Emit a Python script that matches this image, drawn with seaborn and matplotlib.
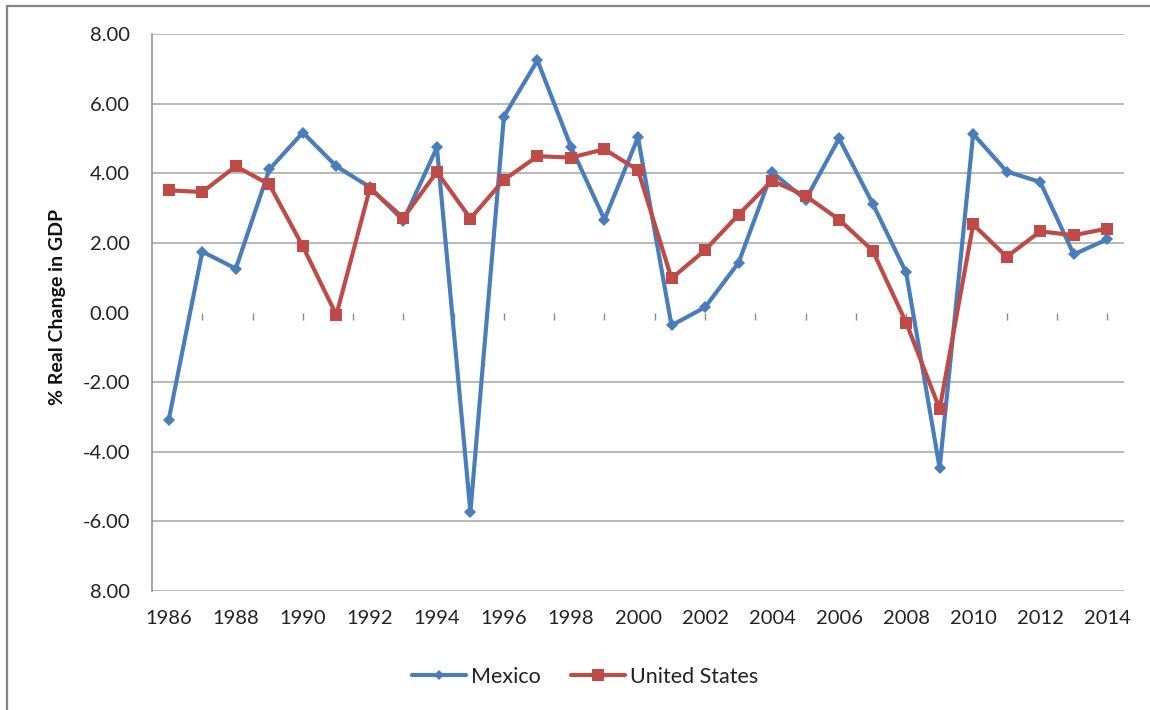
import matplotlib
matplotlib.use("Agg")
import matplotlib.pyplot as plt
from matplotlib.lines import Line2D
from matplotlib.patches import Rectangle
import numpy as np
import pandas as pd
import seaborn as sns

# Data
years = list(range(1986, 2015))
mexico = [-3.08, 1.75, 1.26, 4.11, 5.17, 4.20, 3.60, 2.64, 4.74, -5.73,
          5.63, 7.24, 4.76, 2.67, 5.03, -0.37, 0.15, 1.43, 4.03, 3.24,
          5.00, 3.13, 1.15, -4.47, 5.13, 4.05, 3.75, 1.67, 2.10]
usa = [3.51, 3.46, 4.20, 3.68, 1.90, -0.07, 3.56, 2.72, 4.04, 2.70,
       3.81, 4.49, 4.45, 4.69, 4.09, 0.98, 1.79, 2.81, 3.79, 3.35,
       2.67, 1.78, -0.29, -2.77, 2.53, 1.60, 2.33, 2.22, 2.41]
y_ticks = [8, 6, 4, 2, 0, -2, -4, -6, -8]
y_labels = ["8.00", "6.00", "4.00", "2.00", "0.00", "-2.00", "-4.00", "-6.00", "8.00"]
x_labels = list(range(1986, 2015, 2))

df = pd.DataFrame({"year": years, "Mexico": mexico, "United States": usa})

sns.set_style("white")
plt.rcParams["font.family"] = ["Lato", "DejaVu Sans"]

blue = "#4a7ebb"
red = "#be4b48"
grid_c = "#a6a6a6"

fig = plt.figure(figsize=(11.5, 7.1), dpi=100)
ax = fig.add_axes([152 / 1150, 1 - 591 / 710, 972 / 1150, 557 / 710])

sns.lineplot(data=df, x="year", y="Mexico", ax=ax, color=blue, linewidth=3,
             marker="D", markersize=6, markeredgewidth=0, zorder=3)
sns.lineplot(data=df, x="year", y="United States", ax=ax, color=red, linewidth=3,
             marker="s", markersize=8.5, markeredgewidth=0, zorder=4)

ax.set_xlim(1985.5, 2014.5)
ax.set_ylim(-8, 8)

# gridlines (no line at zero, as in the reference)
for v in y_ticks:
    if v != 0:
        ax.axhline(v, color=grid_c, linewidth=1.1, zorder=1)

ax.set_yticks(y_ticks)
ax.set_yticklabels(y_labels)
ax.set_xticks(x_labels)
ax.set_xticklabels([str(x) for x in x_labels])
ax.tick_params(axis="y", length=7, width=1.1, color=grid_c, pad=9,
               labelsize=14.5, labelcolor="#222222")
ax.tick_params(axis="x", length=0, pad=14, labelsize=14.5, labelcolor="#222222")

for side in ["top", "right", "bottom"]:
    ax.spines[side].set_visible(False)
ax.spines["left"].set_color("#8c8c8c")
ax.spines["left"].set_linewidth(1.1)

ax.set_xlabel("")
ax.set_ylabel("% Real Change in GDP", fontsize=14, fontweight="bold", color="#111111")
ax.yaxis.set_label_coords(-0.088, 0.51)

# small tick marks along the zero level
zero_axis = ax.secondary_xaxis(0.5)
zero_axis.set_xticks(np.arange(1987, 2014.1, 1.5))
zero_axis.set_xticklabels([])
zero_axis.xaxis.set_ticks_position("bottom")
zero_axis.tick_params(direction="out", length=5, width=1, color="#8c8c8c")
for sp in zero_axis.spines.values():
    sp.set_visible(False)

handles = [
    Line2D([], [], color=blue, linewidth=3, marker="D", markersize=5, markeredgewidth=0),
    Line2D([], [], color=red, linewidth=3, marker="s", markersize=8, markeredgewidth=0),
]
fig.legend(handles, ["Mexico", "United States"], loc="center",
           bbox_to_anchor=(585 / 1150, 1 - 677 / 710), ncol=2, frameon=False,
           fontsize=15.5, handlelength=2.5, handletextpad=0.25, columnspacing=1.4,
           labelcolor="#222222")

# outer chart frame
fig.patches.append(Rectangle((7 / 1150, -0.1), 1.2, 1.1 - 6 / 710,
                             transform=fig.transFigure, fill=False,
                             edgecolor="#858585", linewidth=1.6))

fig.savefig("out.png", dpi=100)
